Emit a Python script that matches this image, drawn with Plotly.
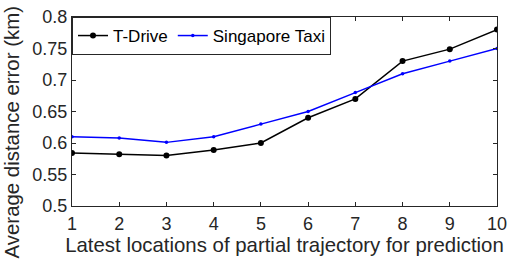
import plotly.graph_objects as go

x_vals = [1, 2, 3, 4, 5, 6, 7, 8, 9, 10]
tdrive = [0.584, 0.582, 0.580, 0.589, 0.600, 0.640, 0.670, 0.730, 0.749, 0.780]
singapore = [0.610, 0.608, 0.601, 0.610, 0.630, 0.650, 0.680, 0.710, 0.730, 0.750]
y_ticks = [0.5, 0.55, 0.6, 0.65, 0.7, 0.75, 0.8]
y_tick_labels = ["0.5", "0.55", "0.6", "0.65", "0.7", "0.75", "0.8"]

fig = go.Figure()
fig.add_trace(go.Scatter(x=x_vals, y=tdrive, mode="lines+markers", name="T-Drive",
                         line=dict(color="black", width=1.5),
                         marker=dict(symbol="circle", size=6, color="black")))
fig.add_trace(go.Scatter(x=x_vals, y=singapore, mode="lines+markers", name="Singapore Taxi",
                         line=dict(color="#0000ff", width=1.5),
                         marker=dict(symbol="circle", size=3.5, color="#0000ff")))

axis_common = dict(showline=True, linecolor="#262626", linewidth=1, mirror="ticks",
                   ticks="inside", ticklen=4, tickcolor="#262626", showgrid=False,
                   zeroline=False, automargin=False,
                   tickfont=dict(family="Liberation Sans, Arial", size=18, color="#262626"))

fig.update_layout(
    width=512, height=265,
    margin=dict(l=72, r=15, t=17, b=59),
    plot_bgcolor="white", paper_bgcolor="white",
    font=dict(family="Liberation Sans, Arial", color="#262626"),
    xaxis=dict(range=[1, 10], tickvals=x_vals, ticklabelstandoff=1,
               title=dict(text="Latest locations of partial trajectory for prediction",
                          font=dict(size=20.4, color="#262626"), standoff=2),
               **axis_common),
    yaxis=dict(range=[0.5, 0.8], tickvals=y_ticks, ticktext=y_tick_labels,
               **axis_common),
    legend=dict(orientation="h", x=0, y=1, xanchor="left", yanchor="top",
                bordercolor="#262626", borderwidth=1, bgcolor="white",
                font=dict(size=17, color="black"), itemwidth=30,
                tracegroupgap=0),
    annotations=[dict(text="Average distance error (km)", textangle=-90,
                      xref="paper", yref="paper", x=-0.139, y=0.389,
                      xanchor="center", yanchor="middle", showarrow=False,
                      font=dict(size=20.4, color="#262626"))],
)

fig.write_html("out.html", config={"displayModeBar": False},
               post_script="document.body.style.margin='0px';")
